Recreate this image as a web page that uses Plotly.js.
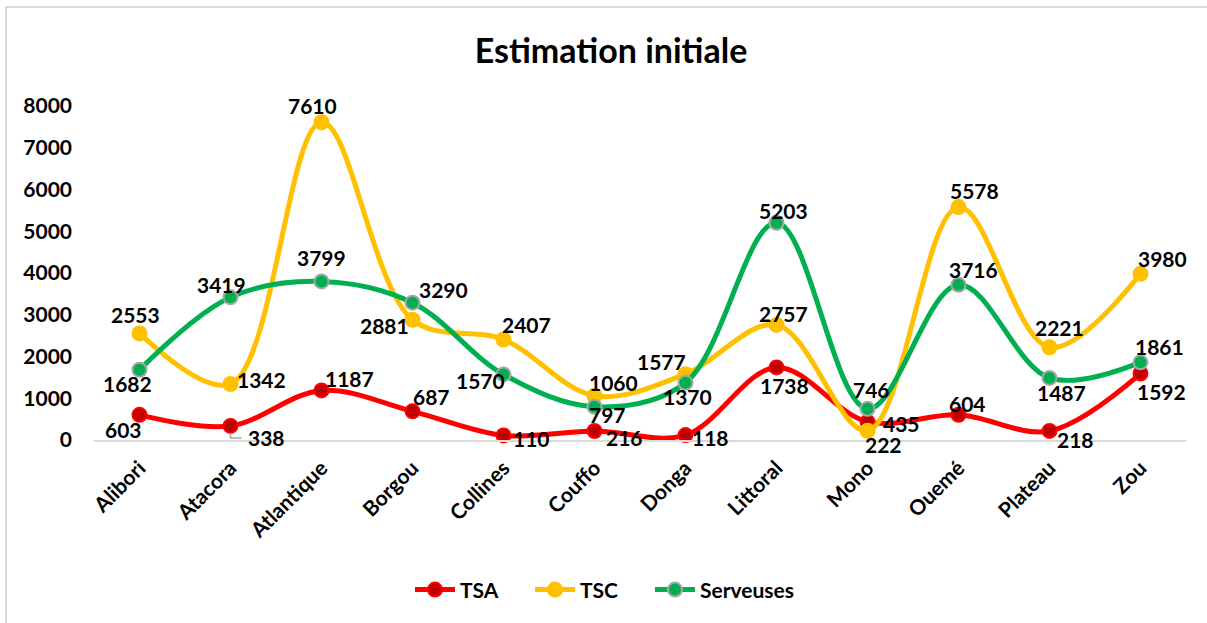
<!DOCTYPE html>
<html>
<head>
<meta charset="utf-8">
<script src="https://cdn.plot.ly/plotly-3.0.1.min.js"></script>
<style>
html,body{margin:0;padding:0;background:#fff;overflow:hidden;}
#wrap{position:relative;width:1207px;height:623px;overflow:hidden;}
#chart{width:1207px;height:623px;}
#frame{position:absolute;left:5px;top:6px;width:1300px;height:700px;border:2px solid #d9d9d9;pointer-events:none;}
</style>
</head>
<body>
<div id="wrap"><div id="chart"></div><div id="frame"></div></div>
<script>
const categories = ["Alibori","Atacora","Atlantique","Borgou","Collines","Couffo","Donga","Littoral","Mono","Ouemé","Plateau","Zou"];
const tsa = [603, 338, 1187, 687, 110, 216, 118, 1738, 435, 604, 218, 1592];
const tsc = [2553, 1342, 7610, 2881, 2407, 1060, 1577, 2757, 222, 5578, 2221, 3980];
const serveuses = [1682, 3419, 3799, 3290, 1570, 797, 1370, 5203, 746, 3716, 1487, 1861];
const yTicks = [0, 1000, 2000, 3000, 4000, 5000, 6000, 7000, 8000];

// label offsets in px (dx right, dy down) – styling only
const tsaOff = [[-16,15],[36,12],[28,-12],[19,-15],[28,3],[30,7],[25,2],[8,18],[34,2],[9,-11],[26,9],[21,18]];
const tscOff = [[-4,-19],[31,-4],[-9,-17],[-28,6],[23,-15],[19,-13],[-24,-13],[7,-11],[16,14],[16,-17],[10,-20],[22,-15]];
const servOff = [[-12,14],[-9,-13],[0,-24],[31,-13],[-23,6],[13,8],[2,14],[7,-12],[4,-19],[15,-15],[12,15],[19,-16]];

const FONT = "Lato, 'Open Sans', sans-serif";
const labelFont = {family: FONT, size: 21, color: "#000", weight: 700};

function trace(name, y, lineColor, markerFill, markerLine, legendWidth) {
  return {
    type: "scatter",
    mode: "lines+markers",
    name: name,
    x: categories,
    y: y,
    cliponaxis: false,
    legendwidth: legendWidth,
    line: {color: lineColor, width: 5, shape: "spline", smoothing: 1},
    marker: {size: 14, color: markerFill, line: {color: markerLine, width: 2}},
    hoverinfo: "x+y"
  };
}

function labels(y, off) {
  return y.map((v, i) => ({
    x: categories[i], y: v, xref: "x", yref: "y",
    text: String(v), showarrow: false,
    xanchor: "center", yanchor: "middle",
    xshift: off[i][0], yshift: -off[i][1],
    font: labelFont
  }));
}

const data = [
  trace("TSA", tsa, "#FF0000", "#C00000", "#FF0000", 65),
  trace("TSC", tsc, "#FFC000", "#FFC000", "#FFC000", 65),
  trace("Serveuses", serveuses, "#00B050", "#00B050", "#A6A6A6", 110)
];

const annotations = [].concat(labels(tsa, tsaOff), labels(tsc, tscOff), labels(serveuses, servOff));

// leader line for the Atacora TSA label
const shapes = [{
  type: "path", xref: "x", yref: "y", xsizemode: "pixel", ysizemode: "pixel",
  xanchor: categories[1], yanchor: tsa[1],
  path: "M0,-7 L0,-12 L11,-12",
  line: {color: "#A6A6A6", width: 1.5}
}];

const layout = {
  width: 1207, height: 623,
  margin: {l: 94, r: 21, t: 106, b: 183},
  paper_bgcolor: "#fff", plot_bgcolor: "#fff",
  font: {family: FONT, color: "#000"},
  title: {text: "Estimation initiale", font: {family: FONT, size: 34, color: "#000", weight: 700},
          x: 611/1207, xanchor: "center", xref: "container", y: 1 - 51/623, yref: "container", yanchor: "middle"},
  xaxis: {
    type: "category", range: [-0.5, 11.5], showgrid: false, zeroline: false,
    showline: true, linecolor: "#d9d9d9", linewidth: 1.5, ticks: "",
    tickangle: -45, ticklabelstandoff: 6,
    tickfont: {family: FONT, size: 21, color: "#000", weight: 700}
  },
  yaxis: {
    range: [0, 8000], tickvals: yTicks, ticktext: yTicks.map(String),
    showgrid: false, zeroline: false, showline: false, ticks: "",
    ticklabelstandoff: 21,
    tickfont: {family: FONT, size: 21, color: "#000", weight: 700}
  },
  annotations: annotations,
  shapes: shapes,
  showlegend: true,
  legend: {orientation: "h", x: (410 - 94) / 1092, xanchor: "left", y: -0.449, yanchor: "middle",
           font: {family: FONT, size: 21, color: "#000", weight: 700},
           itemwidth: 40, entrywidthmode: "pixels",
           traceorder: "normal"}
};

Plotly.newPlot("chart", data, layout, {displayModeBar: false, staticPlot: true});
</script>
</body>
</html>
